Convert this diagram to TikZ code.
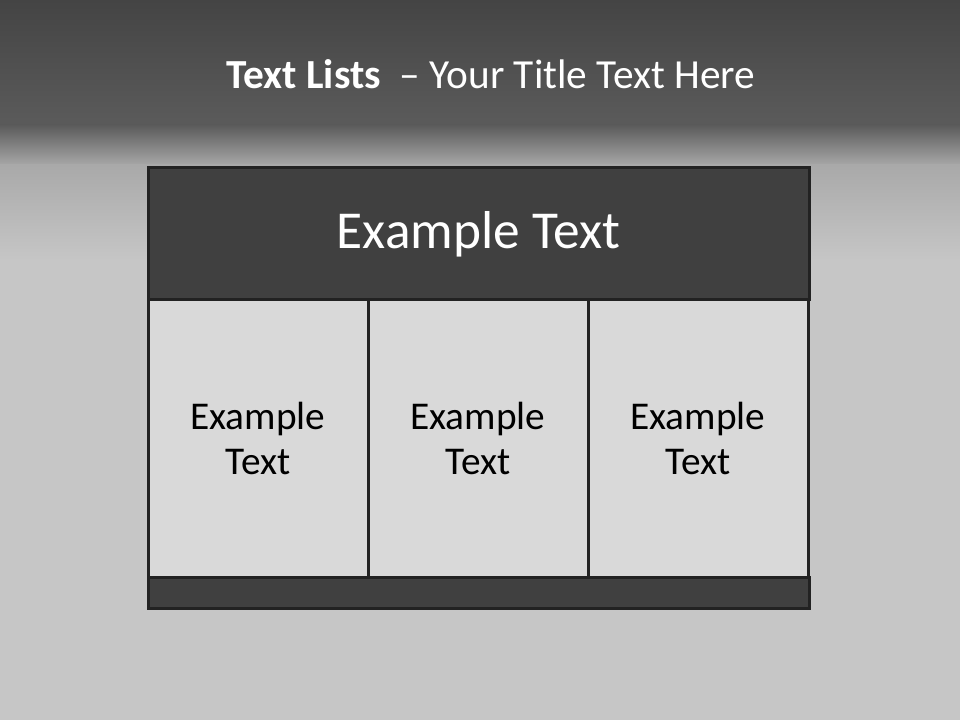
\documentclass[tikz,border=0pt]{standalone}
\usepackage{fontspec}
\setmainfont{Carlito}
\usepackage{tikz}
\usetikzlibrary{positioning,calc}
\definecolor{bandTop}{HTML}{444444}
\definecolor{bandLow}{HTML}{5B5B5B}
\definecolor{bandMid}{HTML}{A9A9A9}
\definecolor{bgLight}{HTML}{C6C6C6}
\definecolor{tabDark}{HTML}{404040}
\definecolor{tabCell}{HTML}{D9D9D9}
\definecolor{tabLine}{HTML}{222222}
\tikzset{
  tabbox/.style={rectangle, draw=tabLine, line width=2.25pt, fill=#1, outer sep=0pt,
                 inner sep=0pt, align=center},
  headbox/.style={tabbox=tabDark, minimum width=495.75pt, minimum height=99pt,
                  text=white, font=\fontsize{40}{48}\selectfont},
  cellbox/.style={tabbox=tabCell, minimum width=165pt, minimum height=207.75pt,
                  text=black, font=\fontsize{29.5}{33.75}\selectfont},
  footbox/.style={tabbox=tabDark, minimum width=495.75pt, minimum height=23.25pt},
}
\begin{document}
\begin{tikzpicture}[x=0.75pt, y=-0.75pt]
     \useasboundingbox (0,0) rectangle (960,720);
     % background
     \fill[bgLight] (0,0) rectangle (960,720);
     \shade[top color=bandTop, bottom color=bandLow] (0,0) rectangle (960,126);
     \shade[top color=bandLow, bottom color=bandMid] (0,125) rectangle (960,166);
     \shade[top color=bandMid, bottom color=bgLight] (0,165) rectangle (960,260);
     \node[text=white, font=\fontsize{31}{37}\selectfont] (title) at (491,74)
          {\textbf{Text Lists}\ \ – Your Title Text Here};
     % table
     \node[headbox, anchor=north west] (head) at (148,168) {Example Text};
     \node[cellbox, anchor=north west] (c1) at (head.south west) {Example\\Text};
     \node[cellbox, anchor=north west] (c2) at (c1.north east) {Example\\Text};
     \node[cellbox, anchor=north west] (c3) at (c2.north east) {Example\\Text};
     \node[footbox, anchor=north west] (foot) at (c1.south west) {};
   \end{tikzpicture}
\end{document}
